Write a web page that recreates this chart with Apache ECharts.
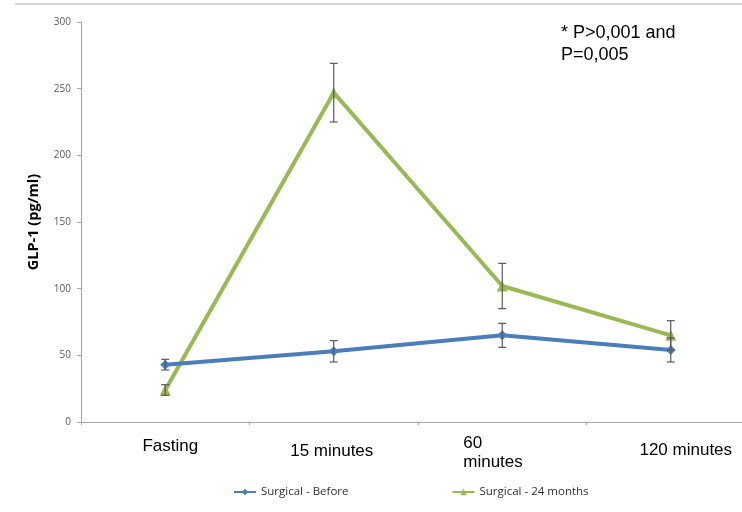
<!DOCTYPE html>
<html>
<head>
<meta charset="utf-8">
<script src="https://cdn.jsdelivr.net/npm/echarts@6/dist/echarts.min.js"></script>
<style>
  html, body { margin: 0; padding: 0; background: #fff; }
  #chart { width: 742px; height: 512px; }
</style>
</head>
<body>
<div id="chart"></div>
<script>
// categories on the x axis
var categories = ['Fasting', '15 minutes', '60\nminutes', '120 minutes'];
// y axis ticks 0..300 step 50
var yMin = 0, yMax = 300, yStep = 50;

// GLP-1 means (pg/ml)
var before = [43, 53, 65, 54];
var after24 = [24, 247, 102, 65];
// error bar half widths
var beforeErr = [4, 8, 9, 9];
var after24Err = [4, 22, 17, 11];

var blue = '#4a7ebb';
var green = '#98b954';

// small label nudges, like the wrapped text boxes of the original
var labelPad = [[3, 0, 0, 10], [8, 4, 0, 0], [0, 14, 0, 0], [7, 0, 0, 30]];

function errData(vals, errs) {
  return vals.map(function (v, i) { return [i, v - errs[i], v + errs[i]]; });
}

function renderErr(params, api) {
  var x = api.value(0);
  var lo = api.coord([x, api.value(1)]);
  var hi = api.coord([x, api.value(2)]);
  var cap = 4;
  var st = { stroke: '#595959', lineWidth: 1.2 };
  return {
    type: 'group',
    children: [
      { type: 'line', shape: { x1: lo[0], y1: lo[1], x2: hi[0], y2: hi[1] }, style: st },
      { type: 'line', shape: { x1: lo[0] - cap, y1: lo[1], x2: lo[0] + cap, y2: lo[1] }, style: st },
      { type: 'line', shape: { x1: hi[0] - cap, y1: hi[1], x2: hi[0] + cap, y2: hi[1] }, style: st }
    ]
  };
}

var myChart = echarts.init(document.getElementById('chart'));
var option = {
  animation: false,
  backgroundColor: '#fff',
  grid: { left: 81, top: 22, width: 674, height: 400, outerBoundsMode: 'none', containLabel: false },
  graphic: [
    { type: 'line', shape: { x1: 15, y1: 4, x2: 742, y2: 4 }, style: { stroke: '#c8c8c8', lineWidth: 1.5 } },
    {
      type: 'text', left: 561, top: 22,
      style: { text: '* P>0,001 and\nP=0,005', font: '18px "Liberation Sans"', fill: '#000', lineHeight: 22 }
    }
  ],
  legend: {
    bottom: 14, left: 233, padding: 0, itemGap: 103, itemWidth: 22, itemHeight: 8,
    textStyle: { fontFamily: 'Open Sans', fontSize: 11.5, color: '#333' },
    data: ['Surgical - Before', 'Surgical - 24 months']
  },
  xAxis: {
    type: 'category',
    data: categories.map(function (c, i) {
      return { value: c, textStyle: { padding: labelPad[i] } };
    }),
    boundaryGap: true,
    axisLine: { lineStyle: { color: '#a6a6a6', width: 1 } },
    axisTick: { show: true, length: 3, lineStyle: { color: '#a6a6a6' } },
    axisLabel: {
      margin: 12, color: '#000', fontFamily: 'Liberation Sans', fontSize: 17, lineHeight: 19,
      formatter: function (v) {
        if (v.indexOf('\n') >= 0) return '{l|60}\n{l|minutes}';
        return v;
      },
      rich: { l: { width: 64, align: 'left', fontFamily: 'Liberation Sans', fontSize: 17, lineHeight: 19 } }
    }
  },
  yAxis: {
    type: 'value', min: yMin, max: yMax, interval: yStep,
    name: 'GLP-1 (pg/ml)', nameLocation: 'middle', nameGap: 40,
    nameTextStyle: { fontFamily: 'Open Sans', fontWeight: 'bold', fontSize: 14.5, color: '#000' },
    axisLine: { show: true, lineStyle: { color: '#a6a6a6', width: 1 } },
    axisTick: { show: true, length: 4, lineStyle: { color: '#a6a6a6' } },
    axisLabel: { color: '#595959', fontSize: 10, fontFamily: 'Open Sans', margin: 10 },
    splitLine: { show: false }
  },
  series: [
    {
      name: 'Surgical - Before', type: 'line', data: before,
      symbol: 'diamond', symbolSize: 10,
      lineStyle: { color: blue, width: 4 }, itemStyle: { color: blue }, z: 3
    },
    {
      name: 'Surgical - 24 months', type: 'line', data: after24,
      symbol: 'triangle', symbolSize: 11,
      lineStyle: { color: green, width: 4 }, itemStyle: { color: green }, z: 2
    },
    { type: 'custom', renderItem: renderErr, data: errData(before, beforeErr), z: 5, silent: true },
    { type: 'custom', renderItem: renderErr, data: errData(after24, after24Err), z: 5, silent: true }
  ]
};
myChart.setOption(option);
</script>
</body>
</html>
